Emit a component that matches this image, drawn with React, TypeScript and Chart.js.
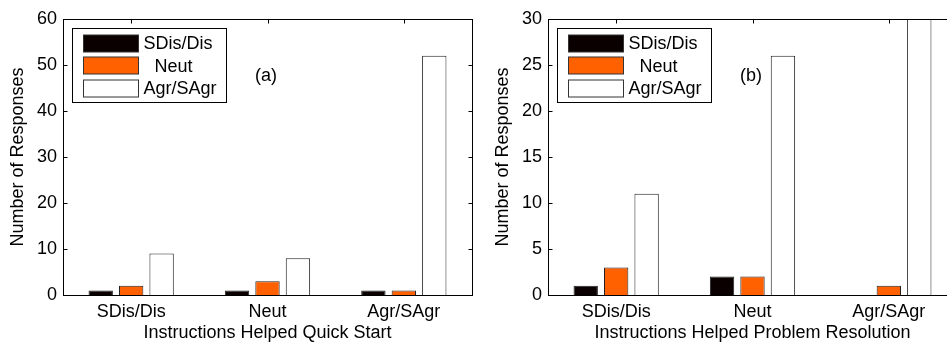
import React, { useEffect, useRef } from "react";
import { Chart, registerables } from "chart.js";

Chart.register(...registerables);

const categories = ["SDis/Dis", "Neut", "Agr/SAgr"];
const seriesLabels = ["SDis/Dis", "Neut", "Agr/SAgr"];
const seriesColors = ["#0a0000", "#ff6000", "#ffffff"];

const quickStartSDis = [1, 1, 1];
const quickStartNeut = [2, 3, 1];
const quickStartAgr = [9, 8, 52];

const problemSDis = [1, 2, 0];
const problemNeut = [3, 2, 1];
const problemAgr = [11, 26, 34];

const quickStartMax = 60;
const quickStartStep = 10;
const problemMax = 30;
const problemStep = 5;

const FONT = "'Liberation Sans', Arial, Helvetica, sans-serif";
const FS = 18;

const framePlugin = {
  id: "frame",
  afterDatasetsDraw(chart: any, _args: any, opts: any) {
    const { ctx, chartArea: a, scales } = chart;
    const x = scales.x;
    const y = scales.y;
    ctx.save();
    ctx.strokeStyle = "#000";
    ctx.lineWidth = 1;
    const L = Math.round(a.left) + 0.5;
    const R = Math.round(a.right) + 0.5;
    const T = Math.round(a.top) + 0.5;
    const B = Math.round(a.bottom) + 0.5;
    ctx.strokeRect(L, T, R - L, B - T);
    ctx.beginPath();
    y.ticks.forEach((_t: any, i: number) => {
      const py = Math.round(y.getPixelForTick(i)) + 0.5;
      ctx.moveTo(L, py);
      ctx.lineTo(L + 4, py);
      ctx.moveTo(R, py);
      ctx.lineTo(R - 4, py);
    });
    x.ticks.forEach((_t: any, i: number) => {
      const px = Math.round(x.getPixelForTick(i)) + 0.5;
      ctx.moveTo(px, T);
      ctx.lineTo(px, T + 4);
    });
    ctx.stroke();

    // legend box
    const bx = Math.round(a.left) + 9 + 0.5;
    const by = Math.round(a.top) + 9 + 0.5;
    const bw = 154;
    const bh = 74;
    ctx.fillStyle = "#fff";
    ctx.fillRect(bx, by, bw, bh);
    ctx.strokeStyle = "#000";
    ctx.strokeRect(bx, by, bw, bh);
    ctx.font = `${FS}px ${FONT}`;
    ctx.textBaseline = "middle";
    ctx.textAlign = "left";
    chart.data.datasets.forEach((ds: any, i: number) => {
      const cy = by + 14.5 + i * 22.75;
      const sx = bx + 11;
      ctx.fillStyle = ds.backgroundColor;
      ctx.fillRect(sx, Math.round(cy - 8.5), 55, 17);
      ctx.strokeStyle = "#333";
      ctx.strokeRect(sx, Math.round(cy - 8.5), 55, 17);
      ctx.fillStyle = "#000";
      ctx.fillText(ds.label, bx + 71 + (ds.label === "Neut" ? 11 : 0), cy + 1);
    });

    // panel tag
    ctx.textAlign = "center";
    ctx.fillText(opts.tag, a.left + 203, a.top + 57);
    ctx.restore();
  },
};

function makeConfig(
  sdis: number[],
  neut: number[],
  agr: number[],
  max: number,
  step: number,
  xTitle: string,
  tag: string,
  yWidth: number,
  yTitlePad: number,
  rightPad: number
): any {
  const values = [sdis, neut, agr];
  return {
    type: "bar",
    data: {
      labels: categories,
      datasets: values.map((v, i) => ({
        label: seriesLabels[i],
        data: v,
        backgroundColor: seriesColors[i],
        borderColor: "#222",
        borderWidth: 1,
        categoryPercentage: 0.67,
        barPercentage: 0.8,
        clip: 0,
      })),
    },
    options: {
      responsive: false,
      maintainAspectRatio: false,
      animation: false,
      layout: { padding: { left: 0, top: 19, right: rightPad, bottom: 0 } },
      plugins: {
        legend: { display: false },
        tooltip: { enabled: false },
        frame: { tag },
      },
      scales: {
        x: {
          grid: { display: false, drawTicks: false },
          border: { display: false },
          ticks: {
            color: "#000",
            padding: 6,
            font: { family: FONT, size: FS },
            maxRotation: 0,
          },
          title: {
            display: true,
            text: xTitle,
            color: "#000",
            font: { family: FONT, size: FS },
            padding: { top: 0, bottom: 0 },
          },
          afterFit: (s: any) => {
            s.height = 49;
          },
        },
        y: {
          min: 0,
          max,
          grid: { display: false, drawTicks: false },
          border: { display: false },
          ticks: {
            stepSize: step,
            color: "#000",
            padding: 6,
            font: { family: FONT, size: FS },
          },
          title: {
            display: true,
            text: "Number of Responses",
            color: "#000",
            font: { family: FONT, size: FS },
            padding: { top: yTitlePad, bottom: 0 },
          },
          afterFit: (s: any) => {
            s.width = yWidth;
          },
        },
      },
    },
    plugins: [framePlugin],
  };
}

function Panel(props: { config: any; width: number; left: number }) {
  const ref = useRef<HTMLCanvasElement | null>(null);
  useEffect(() => {
    if (!ref.current) return;
    const chart = new Chart(ref.current, props.config);
    return () => chart.destroy();
  }, []);
  return (
    <canvas
      ref={ref}
      width={props.width}
      height={344}
      style={{
        position: "absolute",
        left: props.left,
        top: 0,
        width: props.width,
        height: 344,
        display: "block",
      }}
    />
  );
}

export default function App() {
  const left = makeConfig(
    quickStartSDis,
    quickStartNeut,
    quickStartAgr,
    quickStartMax,
    quickStartStep,
    "Instructions Helped Quick Start",
    "(a)",
    63,
    7,
    8
  );
  const right = makeConfig(
    problemSDis,
    problemNeut,
    problemAgr,
    problemMax,
    problemStep,
    "Instructions Helped Problem Resolution",
    "(b)",
    68,
    12,
    13
  );
  return (
    <div
      style={{
        position: "fixed",
        left: 0,
        top: 0,
        width: 947,
        height: 344,
        overflow: "hidden",
        background: "#fff",
      }}
    >
      <Panel config={left} width={480} left={0} />
      <Panel config={right} width={490} left={480} />
    </div>
  );
}
